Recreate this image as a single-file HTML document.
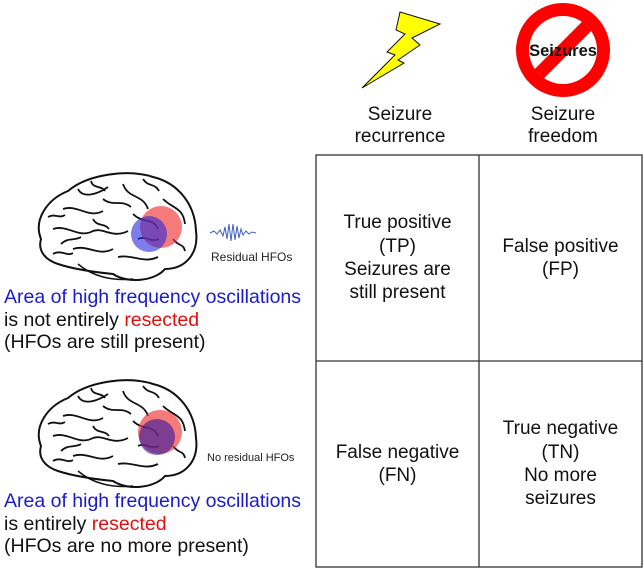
<!DOCTYPE html>
<html><head><meta charset="utf-8"><style>
body{margin:0;background:#fff;width:644px;height:570px;overflow:hidden;position:relative;font-family:"Liberation Sans",sans-serif;color:#111}
.t{position:absolute;font-size:19px;line-height:23.3px;text-align:center;display:flex;align-items:center;justify-content:center}
.h{position:absolute;font-size:19px;line-height:22px;text-align:center}
.l{position:absolute;font-size:19.5px;line-height:22.5px;left:4px;white-space:nowrap}
.b{color:#1a1ad0}.r{color:#e01010}
</style></head><body>
<svg width="644" height="570" style="position:absolute;left:0;top:0">
<defs>
<g id="brain">
<path d="M8,70 C0,50 15,30 35,22 C55,5 95,0 120,8 C145,14 162,35 163,62 C166,85 152,100 132,100 C122,112 95,115 80,105 C60,103 40,100 25,95 C10,90 5,80 8,70 Z" fill="#fff" stroke="#111" stroke-width="2"/>
<path d="M30,40 C45,35 55,50 70,42 M20,60 C35,55 45,70 60,62 C70,58 80,70 95,62 M45,20 C50,30 65,25 75,18 M90,15 C95,30 110,25 115,40 M100,45 C110,55 120,48 125,60 M40,80 C55,75 65,88 80,80 M85,88 C100,85 110,95 125,88 M130,30 C140,40 150,38 152,55 M70,30 C80,38 88,30 98,38 M28,75 C35,68 42,72 48,68 M15,48 C22,44 26,50 32,46 M58,12 C60,20 68,16 72,22 M105,70 C112,66 118,74 126,70 M60,50 C64,58 72,54 76,60 M140,70 C146,78 150,74 152,82 M110,10 C115,18 122,14 126,22 M20,85 C28,80 34,88 40,84" fill="none" stroke="#111" stroke-width="1.8"/>
<path d="M45,95 C60,108 80,112 100,110" fill="none" stroke="#111" stroke-width="1.5"/>
</g>
</defs>
<use href="#brain" x="33" y="169"/>
<circle cx="161" cy="227" r="21" fill="rgba(240,50,50,0.65)"/>
<circle cx="149" cy="234" r="18" fill="rgba(40,40,220,0.6)"/>
<use href="#brain" x="33" y="376"/>
<circle cx="160" cy="432" r="22" fill="rgba(240,50,50,0.65)"/>
<circle cx="157" cy="437" r="18" fill="rgba(60,30,160,0.65)"/>
<polyline points="210,233 214,231 217,234 220,230 223,236 225,227 227,239 229,224 231,241 233,224 235,240 237,226 239,238 241,229 243,235 246,231 249,234 252,232 256,233" fill="none" stroke="#4060c0" stroke-width="1"/>
<polygon points="400,12 440,24 412,38 420,45 398,60 404,63 362,88 395,55 387,52 405,34 396,30" fill="#ffff00" stroke="#111" stroke-width="1"/>
<circle cx="563" cy="50" r="47" fill="#ff0000"/>
<circle cx="563" cy="50" r="34" fill="#fff"/>
<line x1="539" y1="74" x2="587" y2="26" stroke="#ff0000" stroke-width="13"/>
<text x="563" y="56" font-family="Liberation Sans" font-weight="bold" font-size="16.5" text-anchor="middle" fill="#111">Seizures</text>
<rect x="316" y="155" width="326" height="412" fill="none" stroke="#333" stroke-width="1.3"/>
<line x1="479" y1="155" x2="479" y2="567" stroke="#333" stroke-width="1.3"/>
<line x1="316" y1="361" x2="642" y2="361" stroke="#333" stroke-width="1.3"/>
</svg>
<div style="position:absolute;left:211px;top:250px;font-size:12px;color:#222">Residual HFOs</div>
<div style="position:absolute;left:207px;top:452px;font-size:11px;color:#222">No residual HFOs</div>
<div class="h" style="left:335px;width:130px;top:104px">Seizure<br>recurrence</div>
<div class="h" style="left:498px;width:130px;top:104px">Seizure<br>freedom</div>
<div class="t" style="left:316px;width:163px;top:155px;height:206px">True positive<br>(TP)<br>Seizures are<br>still present</div>
<div class="t" style="left:479px;width:163px;top:155px;height:206px">False positive<br>(FP)</div>
<div class="t" style="left:316px;width:163px;top:361px;height:206px">False negative<br>(FN)</div>
<div class="t" style="left:479px;width:163px;top:361px;height:206px">True negative<br>(TN)<br>No more<br>seizures</div>
<div class="l" style="top:286px"><span class="b">Area of high frequency oscillations</span><br>is not entirely <span class="r">resected</span><br>(HFOs are still present)</div>
<div class="l" style="top:490px"><span class="b">Area of high frequency oscillations</span><br>is entirely <span class="r">resected</span><br>(HFOs are no more present)</div>
</body></html>
